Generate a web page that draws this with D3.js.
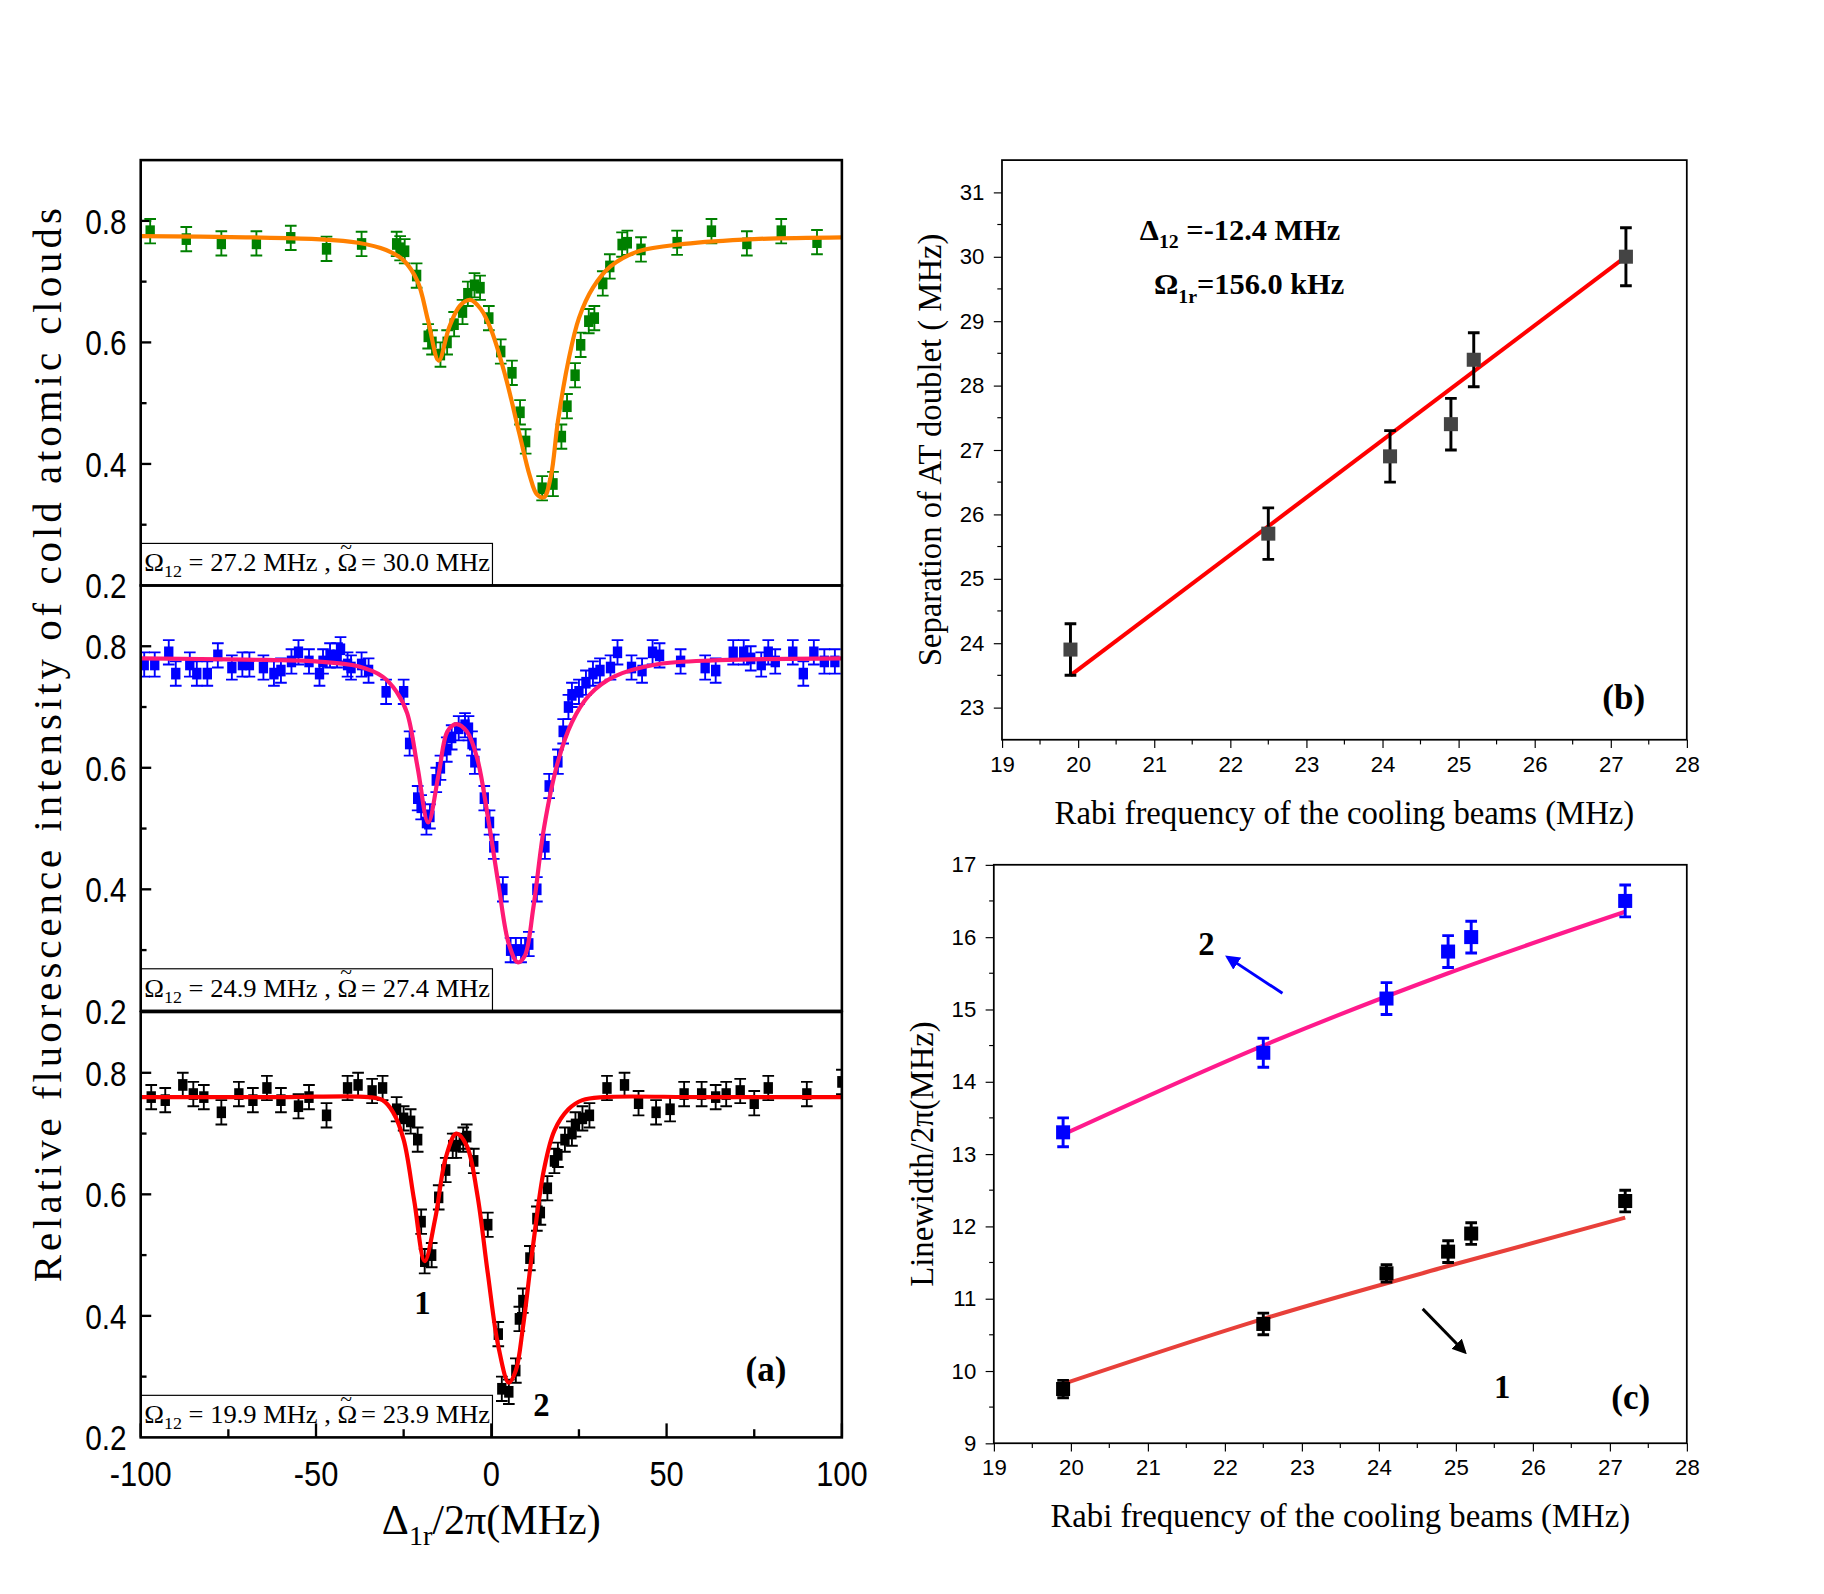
<!DOCTYPE html>
<html><head><meta charset="utf-8">
<script src="https://cdn.jsdelivr.net/npm/d3@7"></script>
<style>body{margin:0;background:#fff}svg{display:block}</style>
</head><body>
<svg id="chart" width="1824" height="1594" viewBox="0 0 1560 1364"></svg>
<script>
'use strict';

// ---- panel (a) data: [detuning MHz, intensity]
const greenPts = [[-97.3,.783],[-87,.77],[-77,.763],[-67,.763],[-57.2,.772],[-47,.754],[-37,.762],[-27,.762],[-26,.755],[-24.7,.75],[-21.3,.71],[-18,.61],[-16.9,.60],[-14.5,.58],[-12.6,.60],[-10.6,.63],[-8.2,.65],[-6.7,.68],[-4.8,.694],[-3.2,.69],[-0.7,.64],[2.7,.585],[5.9,.55],[8.2,.485],[9.8,.437],[14.5,.36],[17.6,.367],[20,.445],[21.6,.495],[23.9,.546],[25.5,.596],[27.8,.635],[29.4,.64],[31.8,.697],[33.8,.725],[37.3,.761],[38.8,.764],[42.7,.753],[53,.764],[62.8,.783],[72.9,.763],[82.7,.783],[92.9,.765]];
const orangeFit = [[-100,.775],[-70,.773],[-50,.77],[-38,.764],[-30,.752],[-25,.735],[-21,.70],[-18,.635],[-15,.57],[-12,.625],[-9,.66],[-6,.67],[-3,.655],[0,.62],[4,.545],[8,.45],[11,.38],[13,.35],[15,.345],[17,.38],[19,.47],[22,.57],[25,.64],[29,.69],[34,.725],[42,.75],[55,.762],[75,.77],[100,.773]];

const bluePts = [[-99,.77],[-96,.77],[-92,.79],[-90,.755],[-86,.77],[-84,.755],[-81,.755],[-78,.785],[-74,.765],[-71,.77],[-69,.77],[-65,.765],[-62,.755],[-60,.76],[-57,.775],[-55,.79],[-52,.775],[-49,.755],[-48,.775],[-46,.785],[-44,.785],[-43,.795],[-41,.77],[-40,.765],[-37,.77],[-35,.76],[-30,.725],[-25,.725],[-23.3,.64],[-21,.55],[-20,.535],[-18.5,.51],[-17.5,.52],[-15.7,.58],[-14.5,.60],[-12.7,.63],[-11.3,.65],[-9.3,.665],[-7.5,.67],[-6.5,.665],[-5.5,.64],[-4.7,.61],[-2,.55],[-0.5,.51],[0.7,.47],[3.3,.40],[5.5,.30],[7,.30],[8.5,.30],[10.7,.31],[13,.40],[15.3,.47],[16.5,.57],[19,.61],[20.5,.66],[22,.70],[23,.72],[25,.725],[27,.74],[29,.755],[31,.76],[34,.765],[36,.79],[40,.765],[43,.76],[46,.79],[48,.785],[54,.775],[61,.765],[64,.76],[69,.79],[72,.79],[74,.78],[77,.77],[79,.79],[81,.775],[86,.79],[89,.755],[92,.79],[95,.775],[98,.775]];
const pinkFit = [[-100,.78],[-70,.778],[-50,.775],[-38,.767],[-31,.75],[-27,.725],[-24,.69],[-21,.60],[-18,.51],[-15,.59],[-12.5,.66],[-10,.672],[-7,.66],[-4,.615],[-1,.52],[2,.41],[5,.31],[7.5,.28],[9.5,.29],[12,.37],[15,.50],[19,.61],[23,.675],[28,.72],[35,.75],[47,.77],[65,.777],[100,.78]];

const blackPts = [[-97,.76],[-93,.755],[-88,.78],[-85,.765],[-82,.76],[-77,.735],[-72,.765],[-68,.755],[-64,.775],[-60,.755],[-55,.745],[-52,.76],[-47,.73],[-41,.775],[-38,.78],[-34,.77],[-31,.775],[-27,.74],[-25,.725],[-23,.72],[-21,.69],[-20,.555],[-19,.49],[-17,.50],[-15,.595],[-13,.64],[-11,.68],[-10,.68],[-8,.69],[-7,.695],[-5,.655],[-1,.55],[2,.37],[3,.28],[5,.275],[7,.31],[8,.395],[9,.425],[11,.495],[13,.56],[14,.57],[16,.61],[18,.655],[19,.665],[21,.69],[23,.70],[24,.715],[26,.725],[28,.73],[33,.775],[38,.78],[42,.75],[47,.735],[51,.74],[55,.765],[60,.765],[64,.76],[67,.765],[71,.77],[75,.75],[79,.775],[90,.765],[100,.785]];
const redFit = [[-100,.76],[-60,.76],[-35,.76],[-31,.755],[-28,.735],[-25,.69],[-22,.59],[-19,.49],[-16,.56],[-13,.66],[-10,.70],[-7,.68],[-4,.60],[-1,.47],[2,.35],[5,.29],[7,.31],[9,.38],[12,.52],[15,.64],[18,.705],[22,.74],[26,.755],[32,.76],[60,.76],[100,.76]];

const panelNotes = [['27.2', '30.0'], ['24.9', '27.4'], ['19.9', '23.9']];

// ---- panel (b)
const rabi = [19.9, 22.5, 24.1, 24.9, 25.2, 27.2];
const separation = [23.9, 25.7, 26.9, 27.4, 28.4, 30.0];
const sepErr = [0.4, 0.4, 0.4, 0.4, 0.42, 0.45];
const sepFit = [[19.9, 23.5], [27.2, 30.0]];

// ---- panel (c)
const width2 = [13.3, 14.4, 15.15, 15.8, 16.0, 16.5];
const width1 = [9.75, 10.65, 11.35, 11.65, 11.9, 12.35];
const widthErr = [0.2, 0.2, 0.22, 0.22, 0.22, 0.22];
const width1Err = [0.12, 0.15, 0.12, 0.15, 0.15, 0.15];
const fit2 = [[19.9, 13.27], [22.5, 14.5], [24.9, 15.5], [27.2, 16.35]];
const fit1 = [[19.9, 9.82], [22.5, 10.72], [24.9, 11.45], [27.2, 12.12]];

const svg = d3.select('#chart');
const serif = '"Liberation Serif", "DejaVu Serif", serif';
const sans = '"Liberation Sans", Arial, sans-serif';

/* ---------- panel (a) ---------- */
const ax = d3.scaleLinear().domain([-100, 100]).range([120, 720]);
const panelTops = [137, 501, 866];
const panelH = 364;
const panels = [
	{ pts: greenPts, fit: orangeFit, mk: '#008000', ln: '#ff8000' },
	{ pts: bluePts, fit: pinkFit, mk: '#0000ff', ln: '#ff1a75' },
	{ pts: blackPts, fit: redFit, mk: '#000', ln: '#ff0000' }
];

panels.forEach((p, i) => {
	const top = panelTops[i];
	const y = d3.scaleLinear().domain([0.2, 0.9]).range([top + panelH, top]);
	const g = svg.append('g');
	const clipId = 'clipA' + i;
	svg.append('clipPath').attr('id', clipId).append('rect')
		.attr('x', 120).attr('y', top).attr('width', 600).attr('height', panelH);

	// left axis, inward ticks
	g.append('g').selectAll('line').data([0.3, 0.4, 0.5, 0.6, 0.7, 0.8]).join('line')
		.attr('x1', 120).attr('x2', d => 120 + (Math.round(d * 10) % 2 === 0 ? 9 : 5))
		.attr('y1', d => y(d)).attr('y2', d => y(d)).attr('stroke', '#000').attr('stroke-width', 2);
	g.append('g').selectAll('text').data([0.2, 0.4, 0.6, 0.8]).join('text')
		.attr('x', 108).attr('y', d => y(d) + 11).attr('text-anchor', 'end')
		.attr('font-family', sans).attr('font-size', 30)
		.attr('transform', d => `translate(${108},${y(d)}) scale(0.85,1) translate(${-108},${-y(d)})`)
		.text(d => d.toFixed(1));

	const body = g.append('g').attr('clip-path', `url(#${clipId})`);
	const eb = 0.02;
	body.selectAll('path.err').data(p.pts).join('path')
		.attr('d', d => {
			const x = ax(d[0]), y1 = y(d[1] + eb), y0 = y(d[1] - eb);
			return `M${x - 5},${y1}H${x + 5}M${x},${y1}V${y0}M${x - 5},${y0}H${x + 5}`;
		})
		.attr('stroke', p.mk).attr('stroke-width', 1.6).attr('fill', 'none');
	body.selectAll('rect.pt').data(p.pts).join('rect')
		.attr('x', d => ax(d[0]) - 4).attr('y', d => y(d[1]) - 5)
		.attr('width', 8).attr('height', 10).attr('fill', p.mk);
	body.append('path').datum(p.fit)
		.attr('d', d3.line().x(d => ax(d[0])).y(d => y(d[1])).curve(d3.curveCatmullRom.alpha(0.5)))
		.attr('fill', 'none').attr('stroke', p.ln).attr('stroke-width', 3.6);

	// note box
	const nb = g.append('g');
	nb.append('rect').attr('x', 120).attr('y', top + panelH - 36).attr('width', 301).attr('height', 36)
		.attr('fill', '#fff').attr('stroke', '#000').attr('stroke-width', 1);
	const t = nb.append('text').attr('x', 123).attr('y', top + panelH - 12)
		.attr('font-family', serif).attr('font-size', 22).attr('textLength', 296).attr('lengthAdjust', 'spacingAndGlyphs');
	t.append('tspan').text('Ω');
	t.append('tspan').attr('font-size', 15).attr('dy', 5).text('12');
	t.append('tspan').attr('dy', -5).text(` = ${panelNotes[i][0]} MHz , Ω`);
	t.append('tspan').attr('dx', -14).attr('dy', -15).attr('font-size', 18).text('~');
	t.append('tspan').attr('dx', 2).attr('dy', 15).text(` = ${panelNotes[i][1]} MHz`);

	g.append('rect').attr('x', 120).attr('y', top).attr('width', 600).attr('height', panelH)
		.attr('fill', 'none').attr('stroke', '#000').attr('stroke-width', 2.2);
});

// bottom x axis of (a)
const xa = svg.append('g');
xa.selectAll('line').data(d3.range(-100, 101, 25)).join('line')
	.attr('x1', d => ax(d)).attr('x2', d => ax(d))
	.attr('y1', 1230).attr('y2', d => 1230 - (d % 50 === 0 ? 12 : 7))
	.attr('stroke', '#000').attr('stroke-width', 2);
xa.selectAll('text').data(d3.range(-100, 101, 50)).join('text')
	.attr('x', d => ax(d)).attr('y', 1272).attr('text-anchor', 'middle')
	.attr('font-family', sans).attr('font-size', 30)
	.attr('transform', d => `translate(${ax(d)},0) scale(0.88,1) translate(${-ax(d)},0)`)
	.text(d => d);
const xl = svg.append('text').attr('x', 420).attr('y', 1313).attr('text-anchor', 'middle')
	.attr('font-family', serif).attr('font-size', 36);
xl.append('tspan').text('Δ');
xl.append('tspan').attr('font-size', 24).attr('dy', 9).text('1r');
xl.append('tspan').attr('dy', -9).text('/2π(MHz)');

svg.append('text').attr('transform', 'translate(52,636) rotate(-90)').attr('text-anchor', 'middle')
	.attr('font-family', serif).attr('font-size', 35).attr('letter-spacing', 3.4)
	.text('Relative fluorescence intensity of cold atomic clouds');

svg.append('text').attr('x', 655).attr('y', 1182).attr('text-anchor', 'middle')
	.attr('font-family', serif).attr('font-weight', 'bold').attr('font-size', 30).text('(a)');
svg.append('text').attr('x', 361).attr('y', 1124).attr('text-anchor', 'middle')
	.attr('font-family', serif).attr('font-weight', 'bold').attr('font-size', 28).text('1');
svg.append('text').attr('x', 463).attr('y', 1212).attr('text-anchor', 'middle')
	.attr('font-family', serif).attr('font-weight', 'bold').attr('font-size', 28).text('2');

/* ---------- panels (b) and (c) ---------- */
function smallPanel(opt) {
	const x = d3.scaleLinear().domain([19, 28]).range([opt.x0, opt.x1]);
	const y = d3.scaleLinear().domain(opt.yDom).range([opt.y1, opt.y0]);
	const g = svg.append('g');
	g.append('g').attr('transform', `translate(0,${opt.y1})`)
		.call(d3.axisBottom(x).ticks(9).tickSizeInner(7).tickSizeOuter(0).tickPadding(7))
		.call(s => s.selectAll('text').attr('font-family', sans).attr('font-size', 19).attr('fill', '#000'));
	g.append('g').attr('transform', `translate(${opt.x0},0)`)
		.call(d3.axisLeft(y).tickValues(opt.yTicks).tickSizeInner(7).tickSizeOuter(0).tickPadding(8))
		.call(s => s.selectAll('text').attr('font-family', sans).attr('font-size', 19).attr('fill', '#000'));
	// minor ticks
	g.append('g').selectAll('line').data(d3.range(19.5, 28, 1)).join('line')
		.attr('x1', d => x(d)).attr('x2', d => x(d)).attr('y1', opt.y1).attr('y2', opt.y1 + 4).attr('stroke', '#000');
	g.append('g').selectAll('line').data(opt.yTicks.slice(0, -1).map(v => v + (opt.yTicks[1] - opt.yTicks[0]) / 2)).join('line')
		.attr('x1', opt.x0).attr('x2', opt.x0 - 4).attr('y1', d => y(d)).attr('y2', d => y(d)).attr('stroke', '#000');
	g.selectAll('.domain').remove();
	g.append('rect').attr('x', opt.x0).attr('y', opt.y0).attr('width', opt.x1 - opt.x0).attr('height', opt.y1 - opt.y0)
		.attr('fill', 'none').attr('stroke', '#000').attr('stroke-width', 1.5);

	opt.series.forEach(s => {
		g.append('path').datum(s.fit)
			.attr('d', d3.line().x(d => x(d[0])).y(d => y(d[1])).curve(d3.curveMonotoneX))
			.attr('fill', 'none').attr('stroke', s.ln).attr('stroke-width', 3.5);
		const pts = rabi.map((r, i) => [r, s.vals[i], s.err[i]]);
		g.selectAll(null).data(pts).join('path')
			.attr('d', d => {
				const cx = x(d[0]), a = y(d[1] + d[2]), b = y(d[1] - d[2]);
				return `M${cx - 5},${a}H${cx + 5}M${cx},${a}V${b}M${cx - 5},${b}H${cx + 5}`;
			})
			.attr('stroke', s.ebc).attr('stroke-width', 2.5).attr('fill', 'none');
		g.selectAll(null).data(pts).join('rect')
			.attr('x', d => x(d[0]) - 6).attr('y', d => y(d[1]) - 6).attr('width', 12).attr('height', 12)
			.attr('fill', s.mk);
	});

	g.append('text').attr('x', (opt.x0 + opt.x1) / 2).attr('y', opt.y1 + 72).attr('text-anchor', 'middle')
		.attr('font-family', serif).attr('font-size', 28).text('Rabi frequency of the cooling beams (MHz)');
	g.append('text').attr('transform', `translate(${opt.x0 - 52},${(opt.y0 + opt.y1) / 2}) rotate(-90)`)
		.attr('text-anchor', 'middle').attr('font-family', serif).attr('font-size', 28).text(opt.ylab);
	return { x, y };
}

smallPanel({
	x0: 857, x1: 1443, y0: 137, y1: 633, yDom: [22.5, 31.5], yTicks: d3.range(23, 32, 1),
	ylab: 'Separation of AT doublet ( MHz)',
	series: [{ vals: separation, err: sepErr, fit: sepFit, mk: '#444', ebc: '#000', ln: '#ff0000' }]
});
const bl1 = svg.append('text').attr('x', 975).attr('y', 205).attr('font-family', serif).attr('font-weight', 'bold').attr('font-size', 26);
bl1.append('tspan').text('Δ');
bl1.append('tspan').attr('font-size', 17).attr('dy', 7).text('12');
bl1.append('tspan').attr('dy', -7).text(' =-12.4 MHz');
const bl2 = svg.append('text').attr('x', 987).attr('y', 252).attr('font-family', serif).attr('font-weight', 'bold').attr('font-size', 26);
bl2.append('tspan').text('Ω');
bl2.append('tspan').attr('font-size', 17).attr('dy', 7).text('1r');
bl2.append('tspan').attr('dy', -7).text('=156.0 kHz');
svg.append('text').attr('x', 1389).attr('y', 607).attr('text-anchor', 'middle')
	.attr('font-family', serif).attr('font-weight', 'bold').attr('font-size', 30).text('(b)');

smallPanel({
	x0: 850, x1: 1443, y0: 740, y1: 1235, yDom: [9, 17], yTicks: d3.range(9, 18, 1),
	ylab: 'Linewidth/2π(MHz)',
	series: [
		{ vals: width2, err: widthErr, fit: fit2, mk: '#0000ff', ebc: '#0000ff', ln: '#ff1a8c' },
		{ vals: width1, err: width1Err, fit: fit1, mk: '#000', ebc: '#000', ln: '#e8403a' }
	]
});
svg.append('defs').selectAll('marker').data([['ahb', '#0000ff'], ['ahk', '#000']]).join('marker')
	.attr('id', d => d[0]).attr('viewBox', '0 0 10 10').attr('refX', 8).attr('refY', 5)
	.attr('markerWidth', 5).attr('markerHeight', 5).attr('orient', 'auto')
	.append('path').attr('d', 'M0,0L10,5L0,10z').attr('fill', d => d[1]);
svg.append('line').attr('x1', 1097).attr('y1', 850).attr('x2', 1050).attr('y2', 819)
	.attr('stroke', '#0000ff').attr('stroke-width', 2.5).attr('marker-end', 'url(#ahb)');
svg.append('line').attr('x1', 1217).attr('y1', 1120).attr('x2', 1253).attr('y2', 1157)
	.attr('stroke', '#000').attr('stroke-width', 2.5).attr('marker-end', 'url(#ahk)');
svg.append('text').attr('x', 1032).attr('y', 817).attr('text-anchor', 'middle')
	.attr('font-family', serif).attr('font-weight', 'bold').attr('font-size', 28).text('2');
svg.append('text').attr('x', 1285).attr('y', 1196).attr('text-anchor', 'middle')
	.attr('font-family', serif).attr('font-weight', 'bold').attr('font-size', 28).text('1');
svg.append('text').attr('x', 1395).attr('y', 1206).attr('text-anchor', 'middle')
	.attr('font-family', serif).attr('font-weight', 'bold').attr('font-size', 30).text('(c)');
</script>
</body></html>
